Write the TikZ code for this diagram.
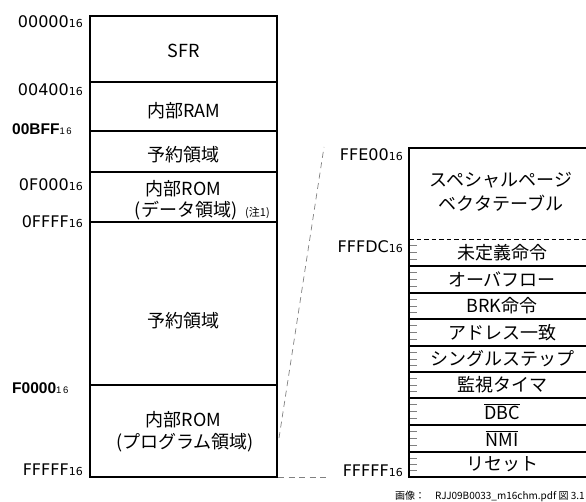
\documentclass[tikz,border=0pt]{standalone}
\usepackage{fontspec}
\setmainfont{Noto Sans CJK JP}
\newfontfamily\arialf{Liberation Sans}
\newfontfamily\dejaf{DejaVu Sans}
\newcommand\hexsub[1]{{\dejaf #1}{\dejaf\fontsize{11}{12}\selectfont 16}}
\newcommand\hexbold[1]{{\arialf\bfseries #1}{\arialf\fontsize{9.5}{10}\selectfont 1\,6}}
\begin{document}
\begin{tikzpicture}[x=1pt,y=-1pt,
  every node/.style={inner sep=0pt},
  txt/.style={font=\fontsize{18}{21}\selectfont},
  addr/.style={anchor=east,font=\fontsize{16}{18}\selectfont},
  baddr/.style={anchor=west,font=\fontsize{15.5}{18}\selectfont},
  outer/.style={line width=2pt},
  divider/.style={line width=1.5pt},
  tick/.style={draw=gray,line width=0.7pt},
  zoomline/.style={draw=gray,line width=0.7pt,dash pattern=on 6pt off 4.5pt}]
\useasboundingbox (0,0) rectangle (586,502);
% ---------- left memory map ----------
\draw[divider] (90,82) -- (277,82) (90,131) -- (277,131) (90,172) -- (277,172)
  (90,222) -- (277,222) (90,385) -- (277,385);
\draw[outer] (90,16) rectangle (277,477);
\node[txt] (sfr) at (183.5,51) {SFR};
\node[txt] (ram) at (183.5,111) {内部RAM};
\node[txt] (rsv1) at (183.5,155) {予約領域};
\node[txt] (romd1) at (183.5,189) {内部ROM};
\node[txt] (romd2) at (186,211) {(データ領域)};
\node[font=\fontsize{11}{12}\selectfont,anchor=west] (note) at (245,213) {(注1)};
\node[txt] (rsv2) at (183.5,321) {予約領域};
\node[txt] (romp1) at (183.5,420) {内部ROM};
\node[txt] (romp2) at (185,443) {(プログラム領域)};
\node[addr] (a1) at (83,22) {\hexsub{00000}};
\node[addr] (a2) at (83,90) {\hexsub{00400}};
\node[baddr] (a3) at (12,129) {\hexbold{00BFF}};
\node[addr] (a4) at (83,185) {\hexsub{0F000}};
\node[addr] (a5) at (83,222) {\hexsub{0FFFF}};
\node[baddr] (a6) at (12,388) {\hexbold{F0000}};
\node[addr] (a7) at (83,470) {\hexsub{FFFFF}};
% ---------- zoom lines ----------
\coordinate (zl1) at (279,438);
\coordinate (zl2) at (324,147);
\coordinate (zb1) at (278,477);
\coordinate (zb2) at (327,477);
\draw[zoomline] (zl1) -- (zl2);
\draw[zoomline] (zb1) -- (zb2);
% ---------- right vector table ----------
\foreach \t/\b in {239/266,266/293,293/319,319/346,346/372,372/398,398/425,425/452,452/477}{
  \foreach \k in {1,2,3}{
    \draw[tick] (410,{\t+\k*(\b-\t)/4}) -- (417,{\t+\k*(\b-\t)/4});
  }
}
\draw[divider] (409,266) -- (600,266) (409,293) -- (600,293) (409,319) -- (600,319)
  (409,346) -- (600,346) (409,372) -- (600,372) (409,398) -- (600,398)
  (409,425) -- (600,425) (409,452) -- (600,452);
\draw[line width=1.7pt,dash pattern=on 4.5pt off 3pt] (409,239.5) -- (600,239.5);
\draw[outer] (600,148) -- (409,148) -- (409,477) -- (600,477);
\node[txt] (sp1) at (501,180) {スペシャルページ};
\node[txt] (sp2) at (501,203) {ベクタテーブル};
\node[txt] (v1) at (502,252.5) {未定義命令};
\node[txt] (v2) at (502,279.5) {オーバフロー};
\node[txt] (v3) at (502,306) {BRK命令};
\node[txt] (v4) at (502,332.5) {アドレス一致};
\node[txt] (v5) at (502,359) {シングルステップ};
\node[txt] (v6) at (502,385) {監視タイマ};
\node[txt] (v7) at (502,411.5) {$\overline{\hbox{\fontsize{18}{21}\selectfont DBC}}$};
\node[txt] (v8) at (502,438.5) {$\overline{\hbox{\fontsize{18}{21}\selectfont NMI}}$};
\node[txt] (v9) at (502,464.5) {リセット};
\node[addr] (r1) at (403,155) {\hexsub{FFE00}};
\node[addr] (r2) at (403,247) {\hexsub{FFFDC}};
\node[addr] (r3) at (403,471) {\hexsub{FFFFF}};
% ---------- caption ----------
\node[anchor=north west,font=\fontsize{10}{12}\selectfont] (cap) at (395,491) {画像：\quad RJJ09B0033\_m16chm.pdf 図 3.1};
\end{tikzpicture}
\end{document}
